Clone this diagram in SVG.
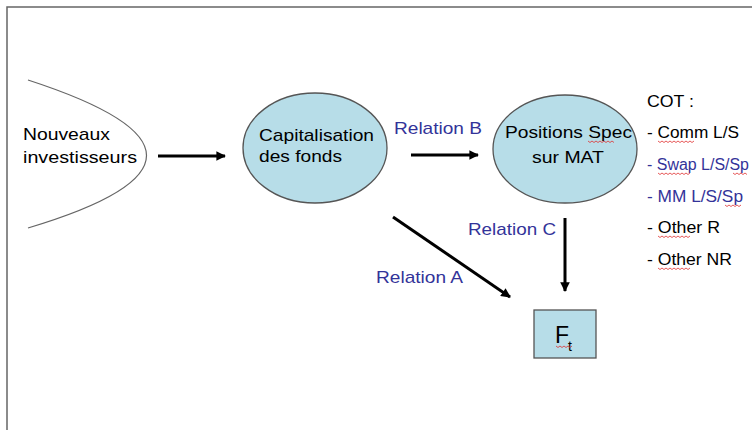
<svg xmlns="http://www.w3.org/2000/svg" width="752" height="430" viewBox="0 0 752 430">
<defs>
<marker id="ah" viewBox="0 0 10 10" refX="9" refY="5" markerWidth="3.4" markerHeight="3.2" markerUnits="strokeWidth" orient="auto">
<path d="M0,0 L10,5 L0,10 z" fill="#000"/>
</marker>
</defs>
<style>
.t{font-family:"Liberation Sans",Arial,sans-serif;font-size:17px;fill:#000}
.b{fill:#333399}
.node{fill:#b7dde8;stroke:#555;stroke-width:1.3}
.conn{stroke:#000;stroke-width:3;fill:none;marker-end:url(#ah)}
.sp{fill:none;stroke:#e03030;stroke-width:0.8}
</style>
<rect width="752" height="430" fill="#fff"/>
<path d="M7,430 V7 H752" fill="none" stroke="#666" stroke-width="1.5"/>
<g id="nouveaux">
<path d="M28,80 Q265,157 28,228" fill="none" stroke="#666" stroke-width="1.2"/>
<text class="t" x="23" y="140" textLength="87" lengthAdjust="spacingAndGlyphs">Nouveaux</text>
<text class="t" x="23" y="163" textLength="114" lengthAdjust="spacingAndGlyphs">investisseurs</text>
</g>
<g id="capitalisation">
<ellipse class="node" cx="315" cy="148" rx="72" ry="55"/>
<text class="t" x="259" y="141" textLength="115" lengthAdjust="spacingAndGlyphs">Capitalisation</text>
<text class="t" x="259" y="162" textLength="83" lengthAdjust="spacingAndGlyphs">des fonds</text>
</g>
<g id="positions">
<ellipse class="node" cx="565" cy="149" rx="72" ry="54"/>
<text class="t" x="505" y="138" textLength="127" lengthAdjust="spacingAndGlyphs">Positions Spec</text>
<text class="t" x="532" y="163" textLength="72" lengthAdjust="spacingAndGlyphs">sur MAT</text>
<path class="sp" d="M588,141 l2,1.5 l2,-1.5 l2,1.5 l2,-1.5 l2,1.5 l2,-1.5 l2,1.5 l2,-1.5 l2,1.5 l2,-1.5 l2,1.5 l2,-1.5 l2,1.5"/>
</g>
<g id="cot">
<text class="t" x="647" y="107" textLength="47" lengthAdjust="spacingAndGlyphs">COT :</text>
<text class="t" x="647" y="138" textLength="92" lengthAdjust="spacingAndGlyphs">- Comm L/S</text>
<text class="t b" x="647" y="170" style="font-size:16px" textLength="102" lengthAdjust="spacingAndGlyphs">- Swap L/S/Sp</text>
<text class="t b" x="647" y="202" textLength="96" lengthAdjust="spacingAndGlyphs">- MM L/S/Sp</text>
<text class="t" x="647" y="233" textLength="73" lengthAdjust="spacingAndGlyphs">- Other R</text>
<text class="t" x="647" y="265" textLength="85" lengthAdjust="spacingAndGlyphs">- Other NR</text>
<path class="sp" d="M658,141 l2,1.5 l2,-1.5 l2,1.5 l2,-1.5 l2,1.5 l2,-1.5 l2,1.5 l2,-1.5 l2,1.5 l2,-1.5 l2,1.5 l2,-1.5 l2,1.5 l2,-1.5 l2,1.5 l2,-1.5 l2,1.5 l2,-1.5"/>
<path class="sp" d="M658,173 l2,1.5 l2,-1.5 l2,1.5 l2,-1.5 l2,1.5 l2,-1.5 l2,1.5 l2,-1.5 l2,1.5 l2,-1.5 l2,1.5 l2,-1.5 l2,1.5 l2,-1.5 l2,1.5 l2,-1.5"/>
<path class="sp" d="M733,173 l2,1.5 l2,-1.5 l2,1.5 l2,-1.5 l2,1.5 l2,-1.5 l2,1.5"/>
<path class="sp" d="M725,205 l2,1.5 l2,-1.5 l2,1.5 l2,-1.5 l2,1.5 l2,-1.5 l2,1.5 l2,-1.5"/>
<path class="sp" d="M658,236 l2,1.5 l2,-1.5 l2,1.5 l2,-1.5 l2,1.5 l2,-1.5 l2,1.5 l2,-1.5 l2,1.5 l2,-1.5 l2,1.5 l2,-1.5 l2,1.5 l2,-1.5 l2,1.5 l2,-1.5"/>
<path class="sp" d="M658,268 l2,1.5 l2,-1.5 l2,1.5 l2,-1.5 l2,1.5 l2,-1.5 l2,1.5 l2,-1.5 l2,1.5 l2,-1.5 l2,1.5 l2,-1.5 l2,1.5 l2,-1.5 l2,1.5 l2,-1.5"/>
</g>
<g id="ft">
<rect class="node" x="534" y="310" width="62" height="48"/>
<text class="t" x="555" y="343" style="font-size:23px">F</text>
<text class="t" x="568" y="351" style="font-size:14px">t</text>
<path class="sp" d="M556,346 l2,1.5 l2,-1.5 l2,1.5 l2,-1.5 l2,1.5 l2,-1.5 l2,1.5 l2,-1.5"/>
</g>
<g id="labels">
<text class="t b" x="394" y="134" textLength="88" lengthAdjust="spacingAndGlyphs">Relation B</text>
<text class="t b" x="468" y="235" textLength="88" lengthAdjust="spacingAndGlyphs">Relation C</text>
<text class="t b" x="376" y="283" textLength="87" lengthAdjust="spacingAndGlyphs">Relation A</text>
</g>
<g id="connectors">
<line class="conn" x1="158" y1="156" x2="225" y2="156"/>
<line class="conn" x1="411" y1="155" x2="478" y2="155"/>
<line class="conn" x1="565" y1="218" x2="565" y2="291"/>
<line class="conn" x1="393" y1="217" x2="510" y2="297"/>
</g>
</svg>
